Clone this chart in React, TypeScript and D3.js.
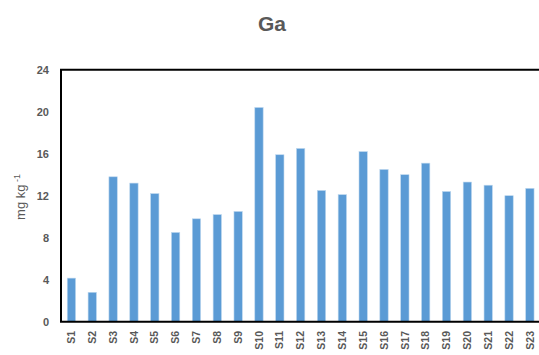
import React from "react";
import * as d3 from "d3";

const categories = ["S1","S2","S3","S4","S5","S6","S7","S8","S9","S10","S11","S12","S13","S14","S15","S16","S17","S18","S19","S20","S21","S22","S23"];
const values = [4.15, 2.8, 13.8, 13.2, 12.2, 8.5, 9.8, 10.2, 10.5, 20.4, 15.9, 16.5, 12.5, 12.1, 16.2, 14.5, 14.0, 15.1, 12.4, 13.3, 13.0, 12.0, 12.7];
const yTicks = [0, 4, 8, 12, 16, 20, 24];
const title = "Ga";

export default function App() {
  const W = 539, H = 355;
  const left = 61, top = 69.7, bottom = 321.7, right = 540.3;
  const x = d3.scaleBand<string>().domain(categories).range([left, right]).paddingInner(0.6).paddingOuter(0.3);
  const y = d3.scaleLinear().domain([0, 24]).range([bottom, top]);
  const font = "'Liberation Sans', Arial, sans-serif";
  const grey = "#595959";
  return (
    <svg width={W} height={H} style={{ position: "absolute", left: 0, top: 0 }} fontFamily={font}>
      <rect width={W} height={H} fill="#fff" />
      <text x={272} y={30.5} textAnchor="middle" fontSize={21} fontWeight="bold" fill={grey}>{title}</text>
      {categories.map((c, i) => (
        <rect key={c} x={x(c)!} y={y(values[i])} width={x.bandwidth()} height={bottom - y(values[i])}
          fill="#5B9BD5" stroke="#bdd7ee" strokeWidth={0.6} />
      ))}
      <path d={`M${right},${top}H${left}V${bottom}H${right}`} fill="none" stroke="#000" strokeWidth={2} />
      {yTicks.map(t => (
        <text key={t} x={49} y={y(t)} dy="0.35em" textAnchor="end" fontSize={11} fontWeight="bold" fill={grey}>{t}</text>
      ))}
      {categories.map(c => (
        <text key={c} transform={`translate(${x(c)! + x.bandwidth() / 2},331) rotate(-90)`} dy="0.35em"
          textAnchor="end" fontSize={10.5} fontWeight="bold" fill={grey}>{c}</text>
      ))}
      <text transform={`translate(20,197) rotate(-90)`} textAnchor="middle" fontSize={13} fill={grey} dy="0.35em">
        mg kg<tspan dy="-5" fontSize={9}> -1</tspan>
      </text>
    </svg>
  );
}
